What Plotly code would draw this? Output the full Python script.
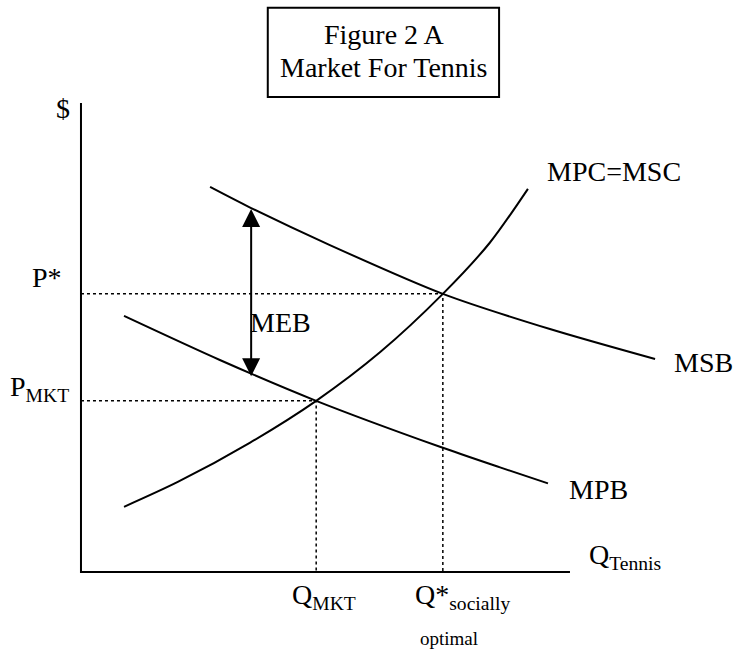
import plotly.graph_objects as go

# ---- data (quantity, price) in chart units ----
mpc_q = [0.88, 1.98, 3.46, 4.81, 6.12, 7.40, 8.36, 9.14]
mpc_p = [1.39, 1.92, 2.76, 3.65, 4.69, 5.93, 7.02, 8.17]

mpb_q = [0.88, 2.84, 4.81, 7.34, 8.57, 9.55]
mpb_p = [5.46, 4.52, 3.65, 2.67, 2.23, 1.89]

msb_q = [2.64, 3.48, 5.09, 7.40, 9.59, 11.74]
msb_p = [8.21, 7.76, 6.97, 5.93, 5.18, 4.54]

q_mkt, p_mkt = 4.81, 3.65
q_star, p_star = 7.40, 5.93
meb_q, meb_top, meb_bottom = 3.48, 7.74, 4.14
axis_max_q, axis_max_p = 10.0, 10.0

FONT = "Liberation Serif"
BIG = 28
SMALL = 19

fig = go.Figure()

line_style = dict(color="black", width=2, shape="spline", smoothing=0.8)
for q, p in [(mpc_q, mpc_p), (mpb_q, mpb_p), (msb_q, msb_p)]:
    fig.add_trace(go.Scatter(x=q, y=p, mode="lines", line=line_style,
                             hoverinfo="skip", showlegend=False))

# axes
fig.add_trace(go.Scatter(x=[0, 0, axis_max_q], y=[axis_max_p, 0, 0], mode="lines",
                         line=dict(color="black", width=2), hoverinfo="skip",
                         showlegend=False))

# dotted guide lines
dot = dict(color="black", width=1.5, dash="dot")
fig.add_trace(go.Scatter(x=[0, q_star, q_star], y=[p_star, p_star, 0], mode="lines",
                         line=dot, hoverinfo="skip", showlegend=False))
fig.add_trace(go.Scatter(x=[0, q_mkt, q_mkt], y=[p_mkt, p_mkt, 0], mode="lines",
                         line=dot, hoverinfo="skip", showlegend=False))

ann = []
def label(text, x, y, xanchor="left", size=BIG, yanchor="middle"):
    ann.append(dict(text=text, x=x, y=y, xref="x", yref="y", showarrow=False,
                    xanchor=xanchor, yanchor=yanchor,
                    font=dict(family=FONT, size=size, color="black")))

label("$", -0.37, 9.89, xanchor="center")
label("P*", -0.35, 6.27, xanchor="right")
label("P<sub>MKT</sub>", -0.2, 3.92, xanchor="right")
label("MEB", 3.42, 5.33)
label("MPC=MSC", 9.49, 8.53)
label("MSB", 12.09, 4.46)
label("MPB", 9.94, 1.75)
label("Q<sub>Tennis</sub>", 10.35, 0.34)
label("Q<sub>MKT</sub>", 4.27, -0.53)
label("Q*<sub>socially</sub>", 6.79, -0.53)
label("optimal", 6.89, -1.41, size=SMALL)
label("Figure 2 A", 6.20, 11.45, xanchor="center")
label("Market For Tennis", 6.20, 10.75, xanchor="center")

# MEB double-headed arrow
ann.append(dict(x=meb_q, y=meb_top, ax=meb_q, ay=meb_bottom, xref="x", yref="y",
                axref="x", ayref="y", text="", showarrow=True, arrowhead=2,
                arrowside="end+start", arrowsize=1.8, arrowwidth=2,
                arrowcolor="black", standoff=0, startstandoff=0))

fig.update_layout(
    annotations=ann,
    shapes=[dict(type="rect", xref="x", yref="y", x0=3.82, x1=8.55, y0=10.13, y1=12.03,
                 line=dict(color="black", width=2), fillcolor="rgba(0,0,0,0)")],
    width=736, height=652,
    margin=dict(l=0, r=0, t=0, b=0),
    paper_bgcolor="white", plot_bgcolor="white",
    xaxis=dict(range=[-1.656, 13.395], visible=False, fixedrange=True),
    yaxis=dict(range=[-1.706, 12.196], visible=False, fixedrange=True),
    showlegend=False,
)

fig.write_html("out.html", config={"displayModeBar": False},
               post_script="document.body.style.margin='0px';document.body.style.overflow='hidden';")
